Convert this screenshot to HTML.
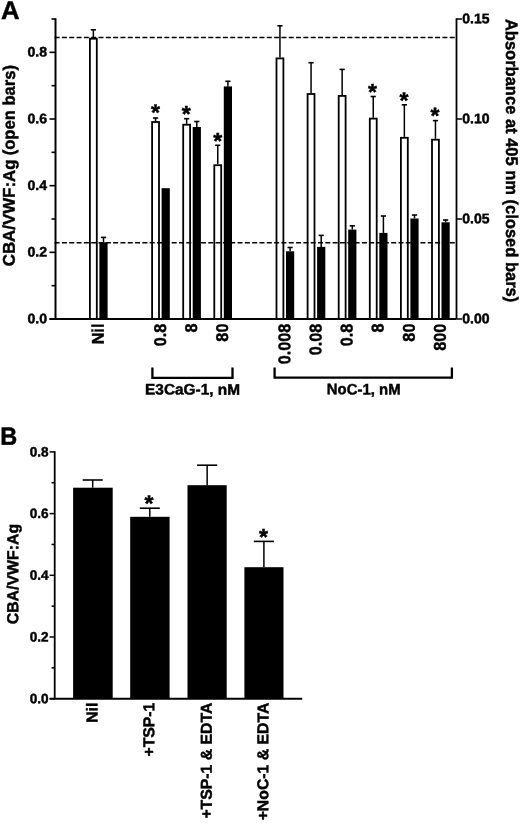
<!DOCTYPE html>
<html><head><meta charset="utf-8"><style>
html,body{margin:0;padding:0;background:#fff;}
svg{display:block;}
text{font-family:"Liberation Sans", sans-serif;font-weight:bold;fill:#000;stroke:#000;stroke-width:0.45px;}
</style></head><body>
<svg style="will-change:transform;filter:blur(0.3px)" width="520" height="823" viewBox="0 0 520 823">
<text transform="translate(1.00,19.00) rotate(0.06)" font-size="25.4" text-anchor="start" textLength="18.56" lengthAdjust="spacingAndGlyphs" >A</text>
<line x1="55.50" y1="18.20" x2="55.50" y2="320.00" stroke="#000" stroke-width="2" />
<line x1="49.50" y1="319.00" x2="456.50" y2="319.00" stroke="#000" stroke-width="2" />
<line x1="456.50" y1="18.20" x2="456.50" y2="319.00" stroke="#000" stroke-width="1.8" />
<line x1="49.50" y1="319.00" x2="55.50" y2="319.00" stroke="#000" stroke-width="1.6" />
<line x1="51.50" y1="285.67" x2="55.50" y2="285.67" stroke="#000" stroke-width="1.6" />
<line x1="49.50" y1="252.33" x2="55.50" y2="252.33" stroke="#000" stroke-width="1.6" />
<line x1="51.50" y1="219.00" x2="55.50" y2="219.00" stroke="#000" stroke-width="1.6" />
<line x1="49.50" y1="185.67" x2="55.50" y2="185.67" stroke="#000" stroke-width="1.6" />
<line x1="51.50" y1="152.33" x2="55.50" y2="152.33" stroke="#000" stroke-width="1.6" />
<line x1="49.50" y1="119.00" x2="55.50" y2="119.00" stroke="#000" stroke-width="1.6" />
<line x1="51.50" y1="85.67" x2="55.50" y2="85.67" stroke="#000" stroke-width="1.6" />
<line x1="49.50" y1="52.33" x2="55.50" y2="52.33" stroke="#000" stroke-width="1.6" />
<line x1="51.50" y1="19.00" x2="55.50" y2="19.00" stroke="#000" stroke-width="1.6" />
<text transform="translate(47.10,323.30) rotate(0.06)" font-size="13.8" text-anchor="end" textLength="19.6" lengthAdjust="spacingAndGlyphs" >0.0</text>
<text transform="translate(47.10,256.63) rotate(0.06)" font-size="13.8" text-anchor="end" textLength="19.6" lengthAdjust="spacingAndGlyphs" >0.2</text>
<text transform="translate(47.10,189.97) rotate(0.06)" font-size="13.8" text-anchor="end" textLength="19.6" lengthAdjust="spacingAndGlyphs" >0.4</text>
<text transform="translate(47.10,123.30) rotate(0.06)" font-size="13.8" text-anchor="end" textLength="19.6" lengthAdjust="spacingAndGlyphs" >0.6</text>
<text transform="translate(47.10,56.63) rotate(0.06)" font-size="13.8" text-anchor="end" textLength="19.6" lengthAdjust="spacingAndGlyphs" >0.8</text>
<line x1="456.50" y1="319.00" x2="462.00" y2="319.00" stroke="#000" stroke-width="1.5" />
<text transform="translate(462.30,323.30) rotate(0.06)" font-size="14" text-anchor="start" >0.00</text>
<line x1="456.50" y1="219.00" x2="462.00" y2="219.00" stroke="#000" stroke-width="1.5" />
<text transform="translate(462.30,223.30) rotate(0.06)" font-size="14" text-anchor="start" >0.05</text>
<line x1="456.50" y1="119.00" x2="462.00" y2="119.00" stroke="#000" stroke-width="1.5" />
<text transform="translate(462.30,123.30) rotate(0.06)" font-size="14" text-anchor="start" >0.10</text>
<line x1="456.50" y1="19.00" x2="462.00" y2="19.00" stroke="#000" stroke-width="1.5" />
<text transform="translate(462.30,23.30) rotate(0.06)" font-size="14" text-anchor="start" >0.15</text>
<line x1="54.60" y1="37.50" x2="456.00" y2="37.50" stroke="#000" stroke-width="1.6" stroke-dasharray="5.0 2.317"/>
<line x1="54.60" y1="242.80" x2="456.00" y2="242.80" stroke="#000" stroke-width="1.6" stroke-dasharray="5.0 2.317"/>
<line x1="93.35" y1="29.80" x2="93.35" y2="37.80" stroke="#000" stroke-width="1.5" />
<line x1="90.75" y1="29.80" x2="95.95" y2="29.80" stroke="#000" stroke-width="1.6" />
<rect x="89.90" y="38.70" width="6.90" height="280.30" fill="none" stroke="#000" stroke-width="1.8"/>
<line x1="155.55" y1="118.00" x2="155.55" y2="121.10" stroke="#000" stroke-width="1.5" />
<line x1="152.95" y1="118.00" x2="158.15" y2="118.00" stroke="#000" stroke-width="1.6" />
<rect x="152.10" y="122.00" width="6.90" height="197.00" fill="none" stroke="#000" stroke-width="1.8"/>
<line x1="186.65" y1="118.70" x2="186.65" y2="123.80" stroke="#000" stroke-width="1.5" />
<line x1="184.05" y1="118.70" x2="189.25" y2="118.70" stroke="#000" stroke-width="1.6" />
<rect x="183.20" y="124.70" width="6.90" height="194.30" fill="none" stroke="#000" stroke-width="1.8"/>
<line x1="217.75" y1="145.30" x2="217.75" y2="164.30" stroke="#000" stroke-width="1.5" />
<line x1="215.15" y1="145.30" x2="220.35" y2="145.30" stroke="#000" stroke-width="1.6" />
<rect x="214.30" y="165.20" width="6.90" height="153.80" fill="none" stroke="#000" stroke-width="1.8"/>
<line x1="279.95" y1="25.80" x2="279.95" y2="57.50" stroke="#000" stroke-width="1.5" />
<line x1="277.35" y1="25.80" x2="282.55" y2="25.80" stroke="#000" stroke-width="1.6" />
<rect x="276.50" y="58.40" width="6.90" height="260.60" fill="none" stroke="#000" stroke-width="1.8"/>
<line x1="311.05" y1="62.70" x2="311.05" y2="93.10" stroke="#000" stroke-width="1.5" />
<line x1="308.45" y1="62.70" x2="313.65" y2="62.70" stroke="#000" stroke-width="1.6" />
<rect x="307.60" y="94.00" width="6.90" height="225.00" fill="none" stroke="#000" stroke-width="1.8"/>
<line x1="342.15" y1="69.40" x2="342.15" y2="95.00" stroke="#000" stroke-width="1.5" />
<line x1="339.55" y1="69.40" x2="344.75" y2="69.40" stroke="#000" stroke-width="1.6" />
<rect x="338.70" y="95.90" width="6.90" height="223.10" fill="none" stroke="#000" stroke-width="1.8"/>
<line x1="373.25" y1="96.50" x2="373.25" y2="117.70" stroke="#000" stroke-width="1.5" />
<line x1="370.65" y1="96.50" x2="375.85" y2="96.50" stroke="#000" stroke-width="1.6" />
<rect x="369.80" y="118.60" width="6.90" height="200.40" fill="none" stroke="#000" stroke-width="1.8"/>
<line x1="404.35" y1="104.80" x2="404.35" y2="136.90" stroke="#000" stroke-width="1.5" />
<line x1="401.75" y1="104.80" x2="406.95" y2="104.80" stroke="#000" stroke-width="1.6" />
<rect x="400.90" y="137.80" width="6.90" height="181.20" fill="none" stroke="#000" stroke-width="1.8"/>
<line x1="435.45" y1="120.60" x2="435.45" y2="138.80" stroke="#000" stroke-width="1.5" />
<line x1="432.85" y1="120.60" x2="438.05" y2="120.60" stroke="#000" stroke-width="1.6" />
<rect x="432.00" y="139.70" width="6.90" height="179.30" fill="none" stroke="#000" stroke-width="1.8"/>
<line x1="103.50" y1="237.40" x2="103.50" y2="242.30" stroke="#000" stroke-width="1.5" />
<line x1="100.90" y1="237.40" x2="106.10" y2="237.40" stroke="#000" stroke-width="1.6" />
<rect x="99.40" y="242.30" width="8.20" height="76.70" fill="#000"/>
<rect x="161.60" y="188.20" width="8.20" height="130.80" fill="#000"/>
<line x1="196.80" y1="121.50" x2="196.80" y2="127.00" stroke="#000" stroke-width="1.5" />
<line x1="194.20" y1="121.50" x2="199.40" y2="121.50" stroke="#000" stroke-width="1.6" />
<rect x="192.70" y="127.00" width="8.20" height="192.00" fill="#000"/>
<line x1="227.90" y1="81.30" x2="227.90" y2="86.40" stroke="#000" stroke-width="1.5" />
<line x1="225.30" y1="81.30" x2="230.50" y2="81.30" stroke="#000" stroke-width="1.6" />
<rect x="223.80" y="86.40" width="8.20" height="232.60" fill="#000"/>
<line x1="290.10" y1="247.50" x2="290.10" y2="251.30" stroke="#000" stroke-width="1.5" />
<line x1="287.50" y1="247.50" x2="292.70" y2="247.50" stroke="#000" stroke-width="1.6" />
<rect x="286.00" y="251.30" width="8.20" height="67.70" fill="#000"/>
<line x1="321.20" y1="235.40" x2="321.20" y2="246.90" stroke="#000" stroke-width="1.5" />
<line x1="318.60" y1="235.40" x2="323.80" y2="235.40" stroke="#000" stroke-width="1.6" />
<rect x="317.10" y="246.90" width="8.20" height="72.10" fill="#000"/>
<line x1="352.30" y1="225.80" x2="352.30" y2="229.60" stroke="#000" stroke-width="1.5" />
<line x1="349.70" y1="225.80" x2="354.90" y2="225.80" stroke="#000" stroke-width="1.6" />
<rect x="348.20" y="229.60" width="8.20" height="89.40" fill="#000"/>
<line x1="383.40" y1="216.00" x2="383.40" y2="232.90" stroke="#000" stroke-width="1.5" />
<line x1="380.80" y1="216.00" x2="386.00" y2="216.00" stroke="#000" stroke-width="1.6" />
<rect x="379.30" y="232.90" width="8.20" height="86.10" fill="#000"/>
<line x1="414.50" y1="215.00" x2="414.50" y2="218.50" stroke="#000" stroke-width="1.5" />
<line x1="411.90" y1="215.00" x2="417.10" y2="215.00" stroke="#000" stroke-width="1.6" />
<rect x="410.40" y="218.50" width="8.20" height="100.50" fill="#000"/>
<line x1="445.60" y1="220.00" x2="445.60" y2="222.30" stroke="#000" stroke-width="1.5" />
<line x1="443.00" y1="220.00" x2="448.20" y2="220.00" stroke="#000" stroke-width="1.6" />
<rect x="441.50" y="222.30" width="8.20" height="96.70" fill="#000"/>
<text transform="translate(155.50,120.16) rotate(0.06)" font-size="23" text-anchor="middle" >*</text>
<text transform="translate(186.20,121.66) rotate(0.06)" font-size="23" text-anchor="middle" >*</text>
<text transform="translate(217.70,148.76) rotate(0.06)" font-size="23" text-anchor="middle" >*</text>
<text transform="translate(372.50,99.76) rotate(0.06)" font-size="23" text-anchor="middle" >*</text>
<text transform="translate(404.00,108.26) rotate(0.06)" font-size="23" text-anchor="middle" >*</text>
<text transform="translate(434.90,123.46) rotate(0.06)" font-size="23" text-anchor="middle" >*</text>
<text transform="translate(103.70,323.60) rotate(-89.94)" font-size="17" text-anchor="end" textLength="20.75" lengthAdjust="spacingAndGlyphs" >Nil</text>
<text transform="translate(165.90,323.60) rotate(-89.94)" font-size="17" text-anchor="end" textLength="22.57" lengthAdjust="spacingAndGlyphs" >0.8</text>
<text transform="translate(197.00,323.60) rotate(-89.94)" font-size="17" text-anchor="end" textLength="9.03" lengthAdjust="spacingAndGlyphs" >8</text>
<text transform="translate(228.10,323.60) rotate(-89.94)" font-size="17" text-anchor="end" textLength="18.06" lengthAdjust="spacingAndGlyphs" >80</text>
<text transform="translate(290.30,323.60) rotate(-89.94)" font-size="17" text-anchor="end" textLength="40.63" lengthAdjust="spacingAndGlyphs" >0.008</text>
<text transform="translate(321.40,323.60) rotate(-89.94)" font-size="17" text-anchor="end" textLength="31.6" lengthAdjust="spacingAndGlyphs" >0.08</text>
<text transform="translate(352.50,323.60) rotate(-89.94)" font-size="17" text-anchor="end" textLength="22.57" lengthAdjust="spacingAndGlyphs" >0.8</text>
<text transform="translate(383.60,323.60) rotate(-89.94)" font-size="17" text-anchor="end" textLength="9.03" lengthAdjust="spacingAndGlyphs" >8</text>
<text transform="translate(414.70,323.60) rotate(-89.94)" font-size="17" text-anchor="end" textLength="18.06" lengthAdjust="spacingAndGlyphs" >80</text>
<text transform="translate(445.80,323.60) rotate(-89.94)" font-size="17" text-anchor="end" textLength="27.09" lengthAdjust="spacingAndGlyphs" >800</text>
<path d="M152.4,367.6 V377.9 H232.5 V367.6" fill="none" stroke="#000" stroke-width="2.3"/>
<path d="M274.6,367.5 V377.6 H451.9 V367.5" fill="none" stroke="#000" stroke-width="2.3"/>
<text transform="translate(192.50,394.60) rotate(0.06)" font-size="15.2" text-anchor="middle" textLength="94.9" lengthAdjust="spacingAndGlyphs" >E3CaG-1, nM</text>
<text transform="translate(363.70,394.40) rotate(0.06)" font-size="15.2" text-anchor="middle" textLength="73.7" lengthAdjust="spacingAndGlyphs" >NoC-1, nM</text>
<text transform="translate(14.80,266.30) rotate(-89.94)" font-size="17" text-anchor="start" textLength="106.8" lengthAdjust="spacingAndGlyphs" >CBA/VWF:Ag</text>
<text transform="translate(14.80,155.36) rotate(-89.94)" font-size="17" text-anchor="start" textLength="90.43" lengthAdjust="spacingAndGlyphs" >(open bars)</text>
<text transform="translate(506.00,160.60) rotate(89.94)" font-size="17" text-anchor="middle" textLength="283.3" lengthAdjust="spacingAndGlyphs" >Absorbance at 405 nm (closed bars)</text>
<text transform="translate(0.20,444.80) rotate(0.06)" font-size="25.0" text-anchor="start" textLength="16.97" lengthAdjust="spacingAndGlyphs" >B</text>
<line x1="54.70" y1="451.20" x2="54.70" y2="699.50" stroke="#000" stroke-width="1.8" />
<line x1="49.60" y1="698.70" x2="302.20" y2="698.70" stroke="#000" stroke-width="2" />
<line x1="49.60" y1="698.70" x2="54.70" y2="698.70" stroke="#000" stroke-width="1.5" />
<line x1="51.50" y1="667.85" x2="54.70" y2="667.85" stroke="#000" stroke-width="1.5" />
<line x1="49.60" y1="637.00" x2="54.70" y2="637.00" stroke="#000" stroke-width="1.5" />
<line x1="51.50" y1="606.15" x2="54.70" y2="606.15" stroke="#000" stroke-width="1.5" />
<line x1="49.60" y1="575.30" x2="54.70" y2="575.30" stroke="#000" stroke-width="1.5" />
<line x1="51.50" y1="544.45" x2="54.70" y2="544.45" stroke="#000" stroke-width="1.5" />
<line x1="49.60" y1="513.60" x2="54.70" y2="513.60" stroke="#000" stroke-width="1.5" />
<line x1="51.50" y1="482.75" x2="54.70" y2="482.75" stroke="#000" stroke-width="1.5" />
<line x1="49.60" y1="451.90" x2="54.70" y2="451.90" stroke="#000" stroke-width="1.5" />
<text transform="translate(48.60,703.20) rotate(0.06)" font-size="13.6" text-anchor="end" >0.0</text>
<text transform="translate(48.60,641.50) rotate(0.06)" font-size="13.6" text-anchor="end" >0.2</text>
<text transform="translate(48.60,579.80) rotate(0.06)" font-size="13.6" text-anchor="end" >0.4</text>
<text transform="translate(48.60,518.10) rotate(0.06)" font-size="13.6" text-anchor="end" >0.6</text>
<text transform="translate(48.60,456.40) rotate(0.06)" font-size="13.6" text-anchor="end" >0.8</text>
<line x1="92.70" y1="480.00" x2="92.70" y2="487.70" stroke="#000" stroke-width="1.5" />
<line x1="82.70" y1="480.00" x2="102.70" y2="480.00" stroke="#000" stroke-width="1.6" />
<rect x="73.10" y="487.70" width="39.60" height="211.00" fill="#000"/>
<line x1="149.80" y1="508.20" x2="149.80" y2="516.80" stroke="#000" stroke-width="1.5" />
<line x1="139.80" y1="508.20" x2="159.80" y2="508.20" stroke="#000" stroke-width="1.6" />
<rect x="130.20" y="516.80" width="39.40" height="181.90" fill="#000"/>
<line x1="207.15" y1="465.20" x2="207.15" y2="485.20" stroke="#000" stroke-width="1.5" />
<line x1="197.10" y1="465.20" x2="217.20" y2="465.20" stroke="#000" stroke-width="1.6" />
<rect x="187.50" y="485.20" width="39.20" height="213.50" fill="#000"/>
<line x1="263.90" y1="541.40" x2="263.90" y2="567.20" stroke="#000" stroke-width="1.5" />
<line x1="253.80" y1="541.40" x2="274.00" y2="541.40" stroke="#000" stroke-width="1.6" />
<rect x="244.40" y="567.20" width="39.10" height="131.50" fill="#000"/>
<text transform="translate(149.05,511.36) rotate(0.06)" font-size="23" text-anchor="middle" >*</text>
<text transform="translate(263.40,544.66) rotate(0.06)" font-size="23" text-anchor="middle" >*</text>
<text transform="translate(97.60,702.60) rotate(-89.94)" font-size="15.8" text-anchor="end" >Nil</text>
<text transform="translate(154.20,702.60) rotate(-89.94)" font-size="15.8" text-anchor="end" >+TSP-1</text>
<text transform="translate(211.80,702.60) rotate(-89.94)" font-size="15.8" text-anchor="end" >+TSP-1 &amp; EDTA</text>
<text transform="translate(268.40,702.60) rotate(-89.94)" font-size="15.8" text-anchor="end" >+NoC-1 &amp; EDTA</text>
<text transform="translate(18.20,574.10) rotate(-89.94)" font-size="16" text-anchor="middle" textLength="100.4" lengthAdjust="spacingAndGlyphs" >CBA/VWF:Ag</text>
</svg></body></html>
